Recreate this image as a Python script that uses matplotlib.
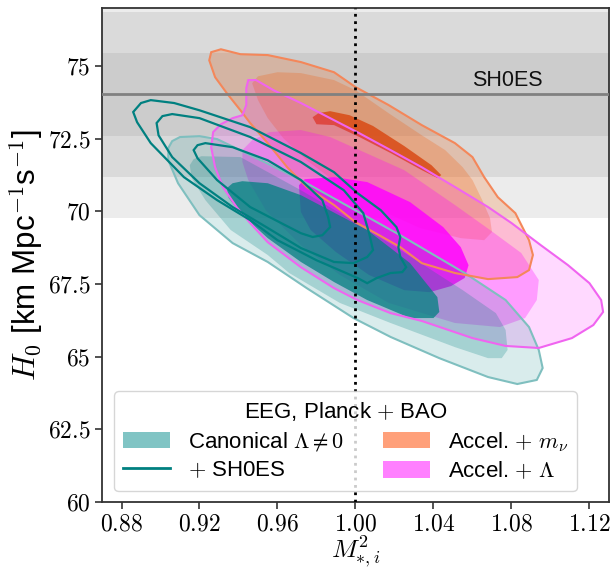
import numpy as np
import matplotlib
matplotlib.use('Agg')
import matplotlib.pyplot as plt
from matplotlib.patches import Patch
from matplotlib.lines import Line2D
from matplotlib.ticker import FuncFormatter

plt.rcParams['font.family'] = ['Liberation Sans', 'DejaVu Sans']
plt.rcParams['mathtext.fontset'] = 'cm'

# SH0ES prior on H0
h0_shoes = 74.03
h0_shoes_err = 1.42

# contour outlines (M*^2, H0), levels ordered 3sigma, 2sigma, 1sigma
can_x3 = [0.904, 0.906, 0.910, 0.920, 0.929, 0.946, 0.972, 0.997, 1.023, 1.056, 1.077, 1.089, 1.094,
          1.096, 1.093, 1.083, 1.068, 1.043, 1.018, 0.999, 0.975, 0.955, 0.937, 0.920, 0.909, 0.904]
can_y3 = [72.18, 72.42, 72.56, 72.59, 72.49, 71.94, 71.08, 70.15, 69.18, 67.88, 66.95, 66.02, 65.23,
          64.61, 64.20, 64.06, 64.30, 64.95, 65.68, 66.33, 67.36, 68.26, 68.91, 69.87, 70.97, 71.76]
can_x2 = [0.915, 0.917, 0.921, 0.941, 0.972, 1.000, 1.023, 1.055, 1.072, 1.077, 1.078, 1.075, 1.068,
          1.051, 1.018, 0.992, 0.966, 0.955, 0.936, 0.923, 0.916]
can_y2 = [71.59, 71.80, 71.90, 71.87, 70.73, 69.63, 68.67, 67.29, 66.50, 65.92, 65.23, 64.95, 64.95,
          65.33, 66.16, 66.85, 67.88, 68.50, 69.36, 70.39, 71.15]
can_x1 = [0.934, 0.937, 0.942, 0.955, 0.972, 1.006, 1.028, 1.042, 1.043, 1.040, 1.028, 1.006, 0.989,
          0.972, 0.955, 0.941, 0.935]
can_y1 = [70.80, 70.97, 71.04, 70.97, 70.56, 69.36, 68.22, 67.05, 66.54, 66.33, 66.33, 66.95, 67.57,
          68.26, 69.08, 69.94, 70.46]

mnu_x3 = [0.926, 0.931, 0.941, 0.955, 0.972, 0.989, 1.000, 1.017, 1.034, 1.051, 1.060, 1.066, 1.073,
          1.082, 1.089, 1.091, 1.089, 1.083, 1.068, 1.051, 1.034, 1.023, 1.013, 1.000, 0.989, 0.975,
          0.965, 0.955, 0.946, 0.941, 0.934, 0.928, 0.925]
mnu_y3 = [75.48, 75.58, 75.41, 75.38, 75.14, 74.79, 74.28, 73.66, 72.97, 72.35, 71.87, 71.18, 70.49,
          69.94, 69.01, 68.50, 67.98, 67.74, 67.67, 67.88, 68.22, 68.77, 69.15, 69.63, 70.22, 70.84,
          71.52, 72.35, 73.04, 73.48, 74.07, 74.62, 75.20]
mnu_x2 = [0.947, 0.950, 0.960, 0.972, 0.989, 1.000, 1.017, 1.034, 1.046, 1.055, 1.060, 1.065, 1.069,
          1.070, 1.066, 1.054, 1.033, 1.013, 0.992, 0.975, 0.963, 0.955, 0.950]
mnu_y2 = [74.41, 74.65, 74.79, 74.76, 74.52, 74.17, 73.38, 72.62, 72.11, 71.52, 71.08, 70.39, 69.77,
          69.29, 69.01, 69.08, 69.43, 70.04, 70.90, 71.76, 72.52, 73.21, 73.83]
mnu_x1 = [0.978, 0.981, 0.987, 0.997, 1.009, 1.025, 1.039, 1.044, 1.042, 1.034, 1.018, 1.002, 0.989, 0.980]
mnu_y1 = [73.24, 73.38, 73.45, 73.31, 72.94, 72.25, 71.59, 71.25, 71.15, 71.42, 72.01, 72.56, 72.97, 73.00]

lam_x3 = [0.945, 0.949, 0.958, 0.972, 0.989, 1.002, 1.018, 1.034, 1.051, 1.068, 1.080, 1.095, 1.109,
          1.120, 1.126, 1.127, 1.122, 1.111, 1.094, 1.077, 1.060, 1.034, 1.018, 1.001, 0.989, 0.972,
          0.955, 0.946, 0.939, 0.932, 0.928, 0.926, 0.927, 0.931, 0.937, 0.942, 0.944, 0.944]
lam_y3 = [74.52, 74.52, 74.17, 73.73, 73.14, 72.69, 72.11, 71.52, 70.84, 70.15, 69.60, 68.84, 68.15,
          67.53, 66.95, 66.54, 66.09, 65.64, 65.30, 65.37, 65.64, 66.23, 66.50, 66.95, 67.36, 68.08,
          68.94, 69.60, 70.15, 70.84, 71.52, 72.21, 72.73, 73.00, 73.21, 73.31, 73.66, 74.24]
lam_x2 = [0.942, 0.947, 0.956, 0.972, 0.987, 1.002, 1.025, 1.051, 1.069, 1.085, 1.094, 1.093, 1.087,
          1.074, 1.051, 1.017, 0.992, 0.972, 0.954, 0.945, 0.942]
lam_y2 = [72.11, 72.45, 72.73, 72.80, 72.56, 72.11, 71.42, 70.22, 69.36, 68.57, 67.64, 66.95, 66.33,
          66.02, 66.16, 66.85, 67.81, 68.84, 70.04, 71.08, 71.70]
lam_x1 = [0.971, 0.974, 0.989, 1.006, 1.028, 1.045, 1.054, 1.058, 1.056, 1.049, 1.038, 1.025, 1.007,
          0.990, 0.977, 0.972]
lam_y1 = [70.90, 71.11, 71.18, 71.01, 70.32, 69.46, 68.77, 68.15, 67.71, 67.43, 67.22, 67.29, 67.81,
          68.60, 69.36, 69.98]

sh_x3 = [0.886, 0.890, 0.895, 0.907, 0.920, 0.946, 0.972, 0.989, 1.001, 1.013, 1.021, 1.023, 1.022,
         1.023, 1.026, 1.024, 1.018, 1.011, 1.006, 1.001, 0.980, 0.960, 0.946, 0.929, 0.912, 0.895, 0.888]
sh_y3 = [73.42, 73.73, 73.83, 73.73, 73.48, 72.90, 72.01, 71.35, 70.63, 70.04, 69.46, 69.12, 68.77,
         68.43, 68.08, 67.91, 67.88, 67.71, 67.53, 67.71, 68.32, 69.01, 69.70, 70.39, 71.18, 72.35, 73.07]
sh_x2 = [0.898, 0.901, 0.906, 0.920, 0.946, 0.972, 0.994, 1.004, 1.007, 1.009, 1.006, 0.999, 0.989,
         0.972, 0.955, 0.937, 0.920, 0.906, 0.899]
sh_y2 = [73.04, 73.28, 73.35, 73.21, 72.56, 71.70, 70.73, 69.94, 69.25, 68.67, 68.43, 68.22, 68.26,
         68.74, 69.43, 70.15, 70.97, 71.87, 72.62]
sh_x1 = [0.917, 0.919, 0.923, 0.937, 0.955, 0.972, 0.983, 0.986, 0.987, 0.983, 0.978, 0.972, 0.963,
         0.946, 0.929, 0.919]
sh_y1 = [72.11, 72.28, 72.35, 72.21, 71.76, 71.08, 70.39, 69.80, 69.46, 69.18, 69.12, 69.25, 69.56,
         70.15, 71.08, 71.83]

teal = (0.0, 0.5, 0.5)
orng = (0.96, 0.34, 0.0)
orng_dark = (0.85, 0.29, 0.08)
mag = (1.0, 0.0, 1.0)

fig = plt.figure(figsize=(6.13, 5.72), dpi=100)
ax = fig.add_axes([0.1664, 0.1224, 0.827, 0.8636])

# SH0ES bands
ax.axhspan(h0_shoes - 3 * h0_shoes_err, h0_shoes + 3 * h0_shoes_err, color='#ececec', lw=0, zorder=0)
ax.axhspan(h0_shoes - 2 * h0_shoes_err, h0_shoes + 2 * h0_shoes_err, color='#dadada', lw=0, zorder=0)
ax.axhspan(h0_shoes - h0_shoes_err, h0_shoes + h0_shoes_err, color='#cccccc', lw=0, zorder=0)

# filled contours: Accel + m_nu, Accel + Lambda, then canonical on top
ax.fill(mnu_x3, mnu_y3, color=orng, alpha=0.2, lw=0, zorder=1)
ax.fill(mnu_x2, mnu_y2, color=orng, alpha=0.24, lw=0, zorder=1)
ax.fill(mnu_x1, mnu_y1, color=orng_dark, alpha=0.85, lw=0, zorder=1)

ax.fill(lam_x3, lam_y3, color=mag, alpha=0.15, lw=0, zorder=1)
ax.fill(lam_x2, lam_y2, color=mag, alpha=0.28, lw=0, zorder=1)
ax.fill(lam_x1, lam_y1, color=mag, alpha=0.83, lw=0, zorder=1)

ax.fill(can_x3, can_y3, color=teal, alpha=0.15, lw=0, zorder=1)
ax.fill(can_x2, can_y2, color=teal, alpha=0.24, lw=0, zorder=1)
ax.fill(can_x1, can_y1, color=teal, alpha=0.74, lw=0, zorder=1)

# outer outlines
ax.fill(can_x3, can_y3, fill=False, ec='#7fbfbf', lw=1.5, zorder=2)
ax.fill(mnu_x3, mnu_y3, fill=False, ec='#f4875a', lw=1.5, zorder=2)
ax.fill(lam_x3, lam_y3, fill=False, ec='#f064f0', lw=1.5, zorder=2)

for xs, ys in [(sh_x3, sh_y3), (sh_x2, sh_y2), (sh_x1, sh_y1)]:
    ax.fill(xs, ys, fill=False, ec='#008080', lw=1.6, zorder=3)

ax.axhline(h0_shoes, color='#808080', lw=2, zorder=3)
ax.text(1.078, 74.5, 'SH0ES', fontsize=15.5, ha='center', va='center', color='#111111', zorder=4)
ax.axvline(1.0, color='black', ls=':', lw=2, zorder=4)

ax.set_xlim(0.87, 1.13)
ax.set_ylim(60, 77)
ax.set_xticks([0.88, 0.92, 0.96, 1.00, 1.04, 1.08, 1.12])
ax.set_yticks([60, 62.5, 65, 67.5, 70, 72.5, 75])
ax.xaxis.set_major_formatter(FuncFormatter(lambda v, p: '$%.2f$' % v))
ax.yaxis.set_major_formatter(FuncFormatter(lambda v, p: '$%g$' % v))
ax.tick_params(labelsize=17, length=5, width=1.2, color='#333333')
for s in ax.spines.values():
    s.set_linewidth(1.3)
    s.set_color('#333333')

ax.set_xlabel(r'$M^2_{*,i}$', fontsize=18.5)
ax.xaxis.set_label_coords(0.5, -0.064)
ax.set_ylabel(r'$H_0$ [km Mpc$^{-1}$s$^{-1}$]', fontsize=22.5, labelpad=1)

handles = [Patch(facecolor='#80c4c4', edgecolor='none'),
           Line2D([], [], color='#008080', lw=2),
           Patch(facecolor='#ffa07a', edgecolor='none'),
           Patch(facecolor='#ff80ff', edgecolor='none')]
labels = [r'Canonical $\Lambda \neq 0$', r'$+$ SH0ES', r'Accel. $+\ m_\nu$', r'Accel. $+\ \Lambda$']
leg = ax.legend(handles, labels, ncol=2, loc='lower left', bbox_to_anchor=(0.024, 0.022),
                borderaxespad=0, fontsize=16, title=r'EEG, Planck $+$ BAO', title_fontsize=16,
                handlelength=2.1, handleheight=0.75, handletextpad=0.8, columnspacing=1.8,
                labelspacing=0.3, borderpad=0.4)
leg.set_zorder(10)

fig.savefig('out.png', dpi=100)
